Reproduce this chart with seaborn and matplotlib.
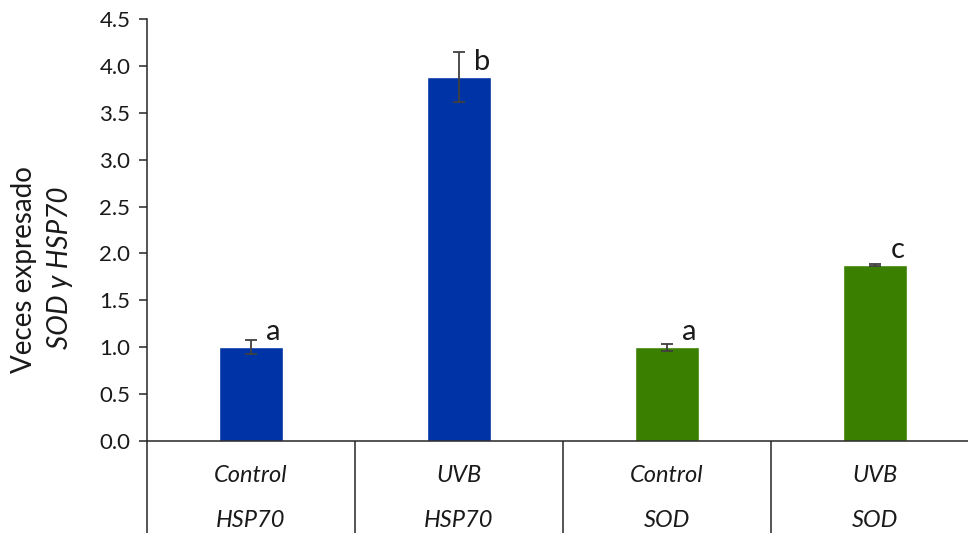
import matplotlib
matplotlib.use("Agg")
import matplotlib.pyplot as plt
import matplotlib.transforms as mtransforms
import seaborn as sns
import pandas as pd

# Expression data
tratamientos = ["Control", "UVB", "Control", "UVB"]
genes = ["HSP70", "HSP70", "SOD", "SOD"]
veces = [1.00, 3.88, 1.00, 1.88]
error = [0.075, 0.27, 0.035, 0.01]
letras = ["a", "b", "a", "c"]
yticks = [0.0, 0.5, 1.0, 1.5, 2.0, 2.5, 3.0, 3.5, 4.0, 4.5]

colores = {"HSP70": "#0033A5", "SOD": "#3A7F00"}

df = pd.DataFrame({
    "grupo": [f"{t}\n{g}" for t, g in zip(tratamientos, genes)],
    "gen": genes,
    "veces": veces,
})

sns.set_theme(style="white")
plt.rcParams["font.family"] = ["Lato", "DejaVu Sans"]

fig = plt.figure(figsize=(9.68, 5.33), dpi=100)
ax = fig.add_axes([147 / 968, 92 / 533, 832 / 968, 422 / 533])

sns.barplot(data=df, x="grupo", y="veces", hue="gen", palette=colores,
            dodge=False, width=0.31, legend=False, ax=ax, saturation=1)
ax.set_xlabel("")
ax.set_ylabel("")

xs = range(len(veces))
ax.errorbar(list(xs), veces, yerr=error, fmt="none", ecolor="#404040",
            elinewidth=1.3, capsize=4, capthick=1.3, zorder=5)

# significance letters
for x, v, e, l in zip(xs, veces, error, letras):
    ax.annotate(l, (x, v), xytext=(11, 5), textcoords="offset points",
                ha="left", va="baseline", fontsize=21, color="#1a1a1a")

ax.set_xlim(-0.5, 3.5)
ax.set_ylim(0, 4.5)
ax.set_yticks(yticks)
ax.set_yticklabels([f"{t:.1f}" for t in yticks], fontsize=16, color="#1a1a1a")

# category table below the axis
ax.set_xticks([])
ax.set_xticks([-0.5, 0.5, 1.5, 2.5], minor=True)
ax.tick_params(axis="x", which="minor", direction="out", length=70,
               width=1.1, color="#262626", bottom=True)
ax.tick_params(axis="y", which="major", direction="out", length=6,
               width=1.1, color="#262626", left=True, pad=6)
trans = mtransforms.blended_transform_factory(ax.transData, ax.transAxes)
for x, t, g in zip(xs, tratamientos, genes):
    ax.text(x, -0.081, t, transform=trans, ha="center", va="center",
            fontsize=17, style="italic", color="#1a1a1a")
    ax.text(x, -0.188, g, transform=trans, ha="center", va="center",
            fontsize=17, style="italic", color="#1a1a1a")

for side in ["top", "right"]:
    ax.spines[side].set_visible(False)
for side in ["left", "bottom"]:
    ax.spines[side].set_color("#262626")
    ax.spines[side].set_linewidth(1.1)

fig.text(24 / 968, 1 - 270 / 533, "Veces expresado", rotation=90,
         ha="center", va="center", fontsize=20, color="#1a1a1a")
fig.text(60 / 968, 1 - 268 / 533, "SOD y HSP70", rotation=90,
         ha="center", va="center", fontsize=20, style="italic", color="#1a1a1a")

fig.savefig("out.png", dpi=100)
